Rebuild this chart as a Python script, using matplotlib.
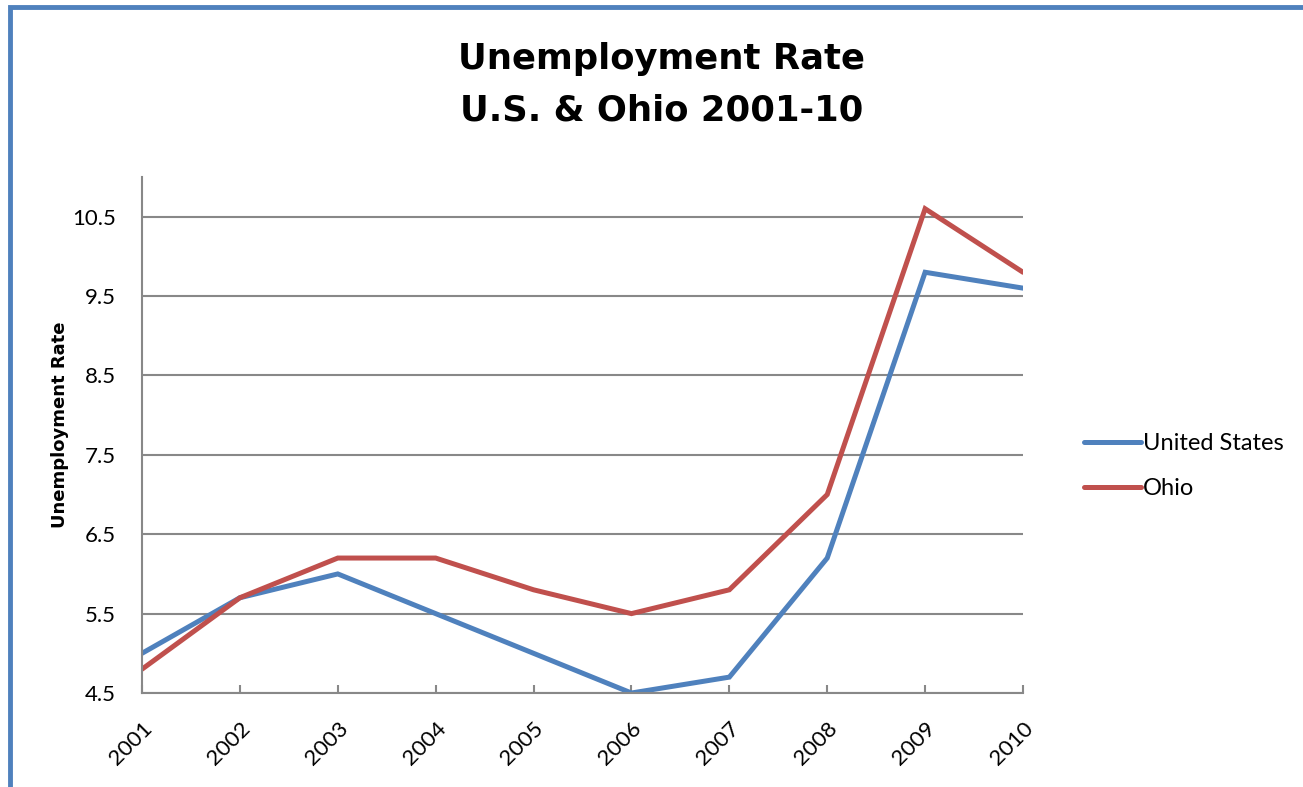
import matplotlib
matplotlib.use('Agg')
import matplotlib.pyplot as plt
from matplotlib.patches import Rectangle
from matplotlib.transforms import ScaledTranslation

years = ['2001', '2002', '2003', '2004', '2005', '2006', '2007', '2008', '2009', '2010']
us_rate = [5.0, 5.7, 6.0, 5.5, 5.0, 4.5, 4.7, 6.2, 9.8, 9.6]
ohio_rate = [4.8, 5.7, 6.2, 6.2, 5.8, 5.5, 5.8, 7.0, 10.6, 9.8]
y_ticks = [4.5, 5.5, 6.5, 7.5, 8.5, 9.5, 10.5]

BLUE = '#4F81BD'
RED = '#C0504D'
GRID = '#888888'
FONT = 'Lato'
BOLD_FONT = 'DejaVu Sans'


def plot():
    W, H = 1303, 787
    fig = plt.figure(figsize=(W / 100, H / 100), dpi=100)
    ax = fig.add_axes([142 / W, 1 - 693 / H, (1023 - 142) / W, (693 - 177) / H])

    x = list(range(len(years)))
    ax.plot(x, us_rate, color=BLUE, lw=3.6, label='United States',
            solid_joinstyle='miter', solid_capstyle='round')
    ax.plot(x, ohio_rate, color=RED, lw=3.6, label='Ohio',
            solid_joinstyle='miter', solid_capstyle='round')

    ax.set_xlim(0, len(years) - 1)
    ax.set_ylim(4.5, 11.0)
    ax.set_yticks(y_ticks)
    ax.set_yticklabels([str(v) for v in y_ticks], fontsize=16, family=FONT)
    ax.set_xticks(x)
    ax.set_xticklabels(years, fontsize=16, family=FONT, rotation=45,
                       ha='right', va='top', rotation_mode='anchor')
    shift = ScaledTranslation(5 / 100, 0, fig.dpi_scale_trans)
    for lab in ax.get_xticklabels():
        lab.set_transform(lab.get_transform() + shift)
    ax.tick_params(axis='x', direction='in', length=6, width=1.5, color=GRID, pad=18)
    ax.tick_params(axis='y', length=0, pad=19)
    ax.yaxis.grid(True, color=GRID, lw=1.5)
    ax.set_axisbelow(True)
    for side in ['top', 'right']:
        ax.spines[side].set_visible(False)
    for side in ['left', 'bottom']:
        ax.spines[side].set_color(GRID)
        ax.spines[side].set_linewidth(1.5)

    fig.text(60 / W, 1 - 425 / H, 'Unemployment Rate', rotation=90, ha='center', va='center',
             fontsize=13, fontweight='bold', family=BOLD_FONT)

    fig.text(0.508, 1 - 56 / H, 'Unemployment Rate', ha='center', va='center_baseline',
             fontsize=25.5, fontweight='bold', family=BOLD_FONT)
    fig.text(0.508, 1 - 107 / H, 'U.S. & Ohio 2001-10', ha='center', va='center_baseline',
             fontsize=25.5, fontweight='bold', family=BOLD_FONT)

    leg = ax.legend(loc='center left', bbox_to_anchor=(1063 / W, 1 - 466 / H),
                    bbox_transform=fig.transFigure, frameon=False,
                    prop={'family': FONT, 'size': 17}, handlelength=2.4,
                    handletextpad=0.1, labelspacing=1.0)
    for line in leg.get_lines():
        line.set_solid_capstyle('round')

    fig.patches.append(Rectangle((10 / W, -0.1), 1.2, 1.1 - 7 / H, transform=fig.transFigure,
                                 fill=False, edgecolor=BLUE, lw=3.5))

    fig.savefig('out.png', dpi=100)


if __name__ == '__main__':
    plot()
